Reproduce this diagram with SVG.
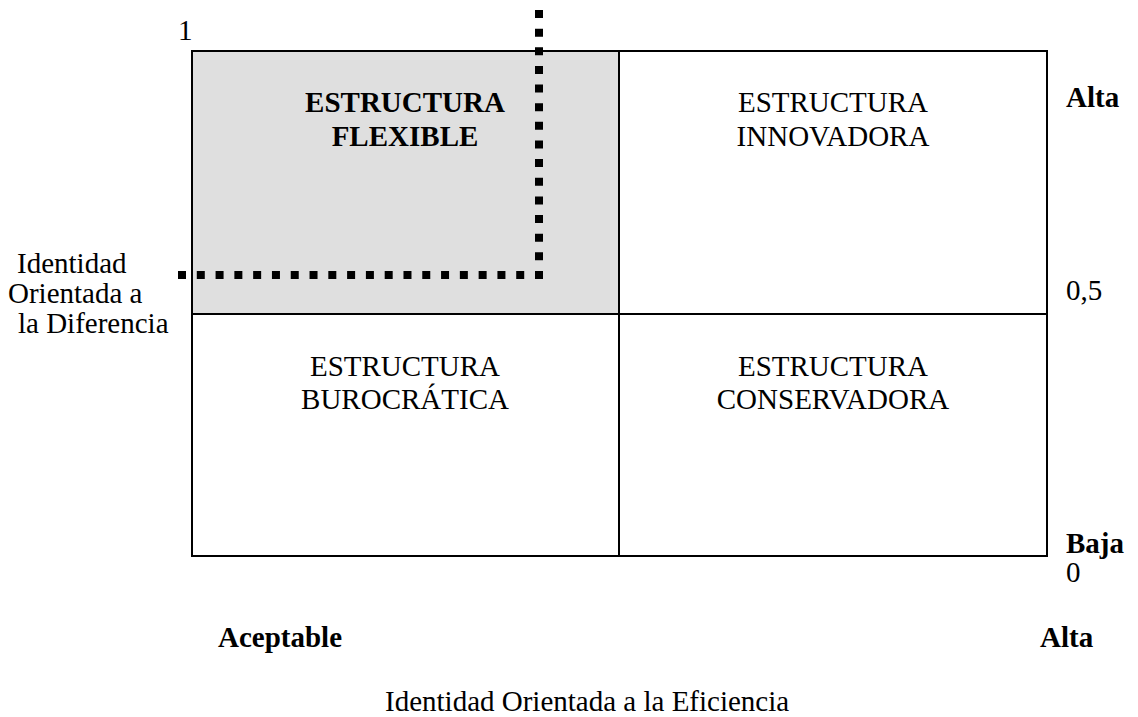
<svg xmlns="http://www.w3.org/2000/svg" width="1138" height="717" viewBox="0 0 1138 717">
<style>
text{font-family:"Liberation Serif","Times New Roman",serif;font-size:29px;fill:#000}
.b{font-weight:bold}
.c{text-anchor:middle}
.box{fill:none;stroke:#000;stroke-width:2}
.dot{stroke:#000;stroke-width:8;fill:none}
</style>
<rect width="1138" height="717" fill="#fff"/>
<g id="q-flexible">
<rect x="192" y="51" width="427" height="263" fill="#dfdfdf"/>
<text class="b c" x="405" y="112">ESTRUCTURA</text>
<text class="b c" x="405" y="146">FLEXIBLE</text>
</g>
<g id="q-innovadora">
<text class="c" x="833" y="112">ESTRUCTURA</text>
<text class="c" x="833" y="146">INNOVADORA</text>
</g>
<g id="q-burocratica">
<text class="c" x="405" y="376">ESTRUCTURA</text>
<text class="c" x="405" y="409">BUROCRÁTICA</text>
</g>
<g id="q-conservadora">
<text class="c" x="833" y="376">ESTRUCTURA</text>
<text class="c" x="833" y="409">CONSERVADORA</text>
</g>
<g id="grid">
<rect class="box" x="192" y="51" width="855" height="505"/>
<line class="box" x1="619" y1="51" x2="619" y2="556"/>
<line class="box" x1="192" y1="314" x2="1047" y2="314"/>
</g>
<g id="connectors">
<line class="dot" x1="539" y1="10" x2="539" y2="279" stroke-dasharray="8 10.64"/>
<line class="dot" x1="178" y1="275" x2="543" y2="275" stroke-dasharray="8 10.79"/>
</g>
<g id="axis-y">
<text x="178" y="40">1</text>
<text x="17" y="273">Identidad</text>
<text x="8" y="303">Orientada a</text>
<text x="18" y="333">la Diferencia</text>
<text class="b" x="1066" y="107">Alta</text>
<text x="1066" y="300">0,5</text>
<text class="b" x="1066" y="553">Baja</text>
<text x="1066" y="582">0</text>
</g>
<g id="axis-x">
<text class="b" x="218" y="647">Aceptable</text>
<text class="b" x="1040" y="647">Alta</text>
<text x="385" y="711">Identidad Orientada a la Eficiencia</text>
</g>
</svg>
